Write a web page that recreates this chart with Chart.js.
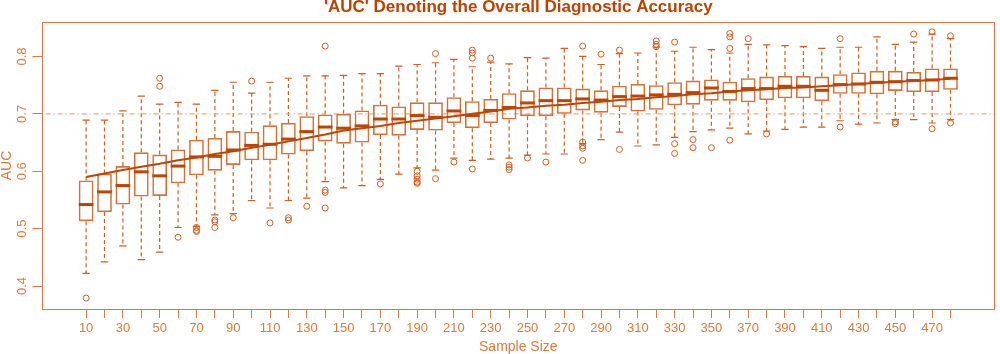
<!DOCTYPE html>
<html lang="en">
<head>
    <meta charset="UTF-8">
    <title>AUC boxplot</title>
    <script src="https://cdn.jsdelivr.net/npm/chart.js"></script>
    <style>
        body { margin: 0; background: #fff; }
        .chart-box { width: 1000px; height: 354px; position: relative; }
    </style>
</head>
<body>
    <div class="chart-box">
        <canvas id="aucChart"></canvas>
    </div>

    <script>
        // sample sizes (one box per size)
        const sizes = [10, 20, 30, 40, 50, 60, 70, 80, 90, 100, 110, 120, 130, 140, 150, 160,
            170, 180, 190, 200, 210, 220, 230, 240, 250, 260, 270, 280, 290, 300, 310, 320,
            330, 340, 350, 360, 370, 380, 390, 400, 410, 420, 430, 440, 450, 460, 470, 480];

        const whiskerLow = [0.422, 0.442, 0.470, 0.446, 0.459, 0.502, 0.504, 0.524, 0.526, 0.549, 0.536, 0.549,
            0.553, 0.582, 0.571, 0.575, 0.586, 0.595, 0.606, 0.602, 0.623, 0.619, 0.621, 0.623,
            0.628, 0.630, 0.630, 0.648, 0.655, 0.668, 0.644, 0.646, 0.659, 0.669, 0.672, 0.675,
            0.665, 0.670, 0.673, 0.677, 0.677, 0.688, 0.682, 0.684, 0.690, 0.690, 0.684, 0.690];
        const q1 = [0.513, 0.529, 0.542, 0.556, 0.557, 0.579, 0.593, 0.601, 0.611, 0.619, 0.619, 0.629,
            0.635, 0.652, 0.648, 0.650, 0.663, 0.662, 0.672, 0.671, 0.684, 0.675, 0.684, 0.690,
            0.696, 0.696, 0.700, 0.706, 0.702, 0.712, 0.704, 0.707, 0.715, 0.716, 0.723, 0.723,
            0.720, 0.724, 0.727, 0.727, 0.722, 0.735, 0.735, 0.734, 0.740, 0.738, 0.738, 0.742];
        const medians = [0.542, 0.564, 0.575, 0.599, 0.592, 0.609, 0.625, 0.626, 0.637, 0.645, 0.647, 0.656,
            0.669, 0.677, 0.675, 0.679, 0.691, 0.691, 0.697, 0.694, 0.705, 0.697, 0.706, 0.711,
            0.719, 0.723, 0.723, 0.726, 0.724, 0.730, 0.731, 0.733, 0.734, 0.737, 0.745, 0.739,
            0.744, 0.744, 0.748, 0.748, 0.741, 0.751, 0.752, 0.755, 0.756, 0.758, 0.759, 0.762];
        const q3 = [0.584, 0.596, 0.609, 0.633, 0.629, 0.638, 0.655, 0.658, 0.670, 0.669, 0.680, 0.684,
            0.696, 0.699, 0.700, 0.706, 0.716, 0.713, 0.720, 0.720, 0.729, 0.722, 0.726, 0.736,
            0.741, 0.746, 0.746, 0.744, 0.741, 0.749, 0.752, 0.750, 0.755, 0.758, 0.760, 0.756,
            0.762, 0.765, 0.766, 0.766, 0.765, 0.769, 0.772, 0.775, 0.775, 0.773, 0.779, 0.779];
        const whiskerHigh = [0.689, 0.689, 0.705, 0.731, 0.717, 0.720, 0.717, 0.741, 0.755, 0.736, 0.755, 0.762,
            0.766, 0.766, 0.767, 0.770, 0.770, 0.783, 0.786, 0.789, 0.795, 0.782, 0.790, 0.787,
            0.798, 0.797, 0.814, 0.800, 0.786, 0.805, 0.806, 0.816, 0.809, 0.816, 0.812, 0.806,
            0.821, 0.820, 0.819, 0.817, 0.814, 0.816, 0.816, 0.834, 0.821, 0.825, 0.839, 0.831];
        const outliers = [
            [0.379], [], [], [], [0.762, 0.748], [0.485], [0.502, 0.497, 0.495], [0.515, 0.512, 0.502],
            [0.519], [0.757], [0.510], [0.519, 0.515], [0.539], [0.818, 0.567, 0.563, 0.536], [], [],
            [0.578], [], [0.600, 0.592, 0.586, 0.581, 0.579], [0.805, 0.587], [0.616], [0.811, 0.806, 0.797, 0.604], [0.797], [0.611, 0.607, 0.603],
            [0.623], [0.616], [], [0.818, 0.651, 0.644, 0.640, 0.619], [0.804], [0.811, 0.638], [], [0.827, 0.821, 0.817],
            [0.825, 0.648, 0.631], [0.655, 0.641], [0.641], [0.840, 0.834, 0.814, 0.654], [0.831], [0.665], [], [],
            [], [0.831, 0.677], [], [], [0.686, 0.683], [0.839], [0.843, 0.674], [0.836, 0.684]
        ];
        // fitted trend through the boxes
        const trend = [0.590, 0.596, 0.602, 0.608, 0.613, 0.619, 0.624, 0.630, 0.635, 0.641, 0.646, 0.652,
            0.658, 0.664, 0.671, 0.675, 0.679, 0.684, 0.688, 0.692, 0.696, 0.700, 0.704, 0.709,
            0.711, 0.714, 0.716, 0.719, 0.721, 0.724, 0.726, 0.729, 0.731, 0.734, 0.736, 0.739,
            0.741, 0.743, 0.745, 0.746, 0.748, 0.750, 0.752, 0.754, 0.756, 0.757, 0.759, 0.761];
        const refLevel = 0.7;
        const yTicks = [0.4, 0.5, 0.6, 0.7, 0.8];

        const positions = sizes.map((s, i) => i + 1);
        const xMin = 0.5 - 0.04 * sizes.length;
        const xMax = sizes.length + 0.5 + 0.04 * sizes.length;

        const colBox = 'rgb(210, 114, 56)';
        const colWhisker = 'rgb(204, 94, 32)';
        const colMedian = 'rgb(190, 68, 0)';
        const colAxis = 'rgb(212, 122, 66)';
        const colText = 'rgb(216, 122, 62)';
        const colTitle = 'rgb(186, 66, 0)';
        const fontFamily = '"Liberation Sans", Arial, sans-serif';

        // whiskers, medians, frame, title and y labels
        const boxParts = {
            id: 'boxParts',
            beforeDatasetsDraw(chart) {
                const { ctx, scales: { x, y } } = chart;
                const half = (x.getPixelForValue(1) - x.getPixelForValue(0)) * 0.2;
                ctx.save();
                ctx.strokeStyle = colWhisker;
                ctx.lineWidth = 1.2;
                positions.forEach((p, i) => {
                    const px = x.getPixelForValue(p);
                    ctx.setLineDash([4, 3]);
                    ctx.beginPath();
                    ctx.moveTo(px, y.getPixelForValue(q3[i]));
                    ctx.lineTo(px, y.getPixelForValue(whiskerHigh[i]));
                    ctx.moveTo(px, y.getPixelForValue(q1[i]));
                    ctx.lineTo(px, y.getPixelForValue(whiskerLow[i]));
                    ctx.stroke();
                    ctx.setLineDash([]);
                    ctx.beginPath();
                    const yh = y.getPixelForValue(whiskerHigh[i]);
                    const yl = y.getPixelForValue(whiskerLow[i]);
                    ctx.moveTo(px - half, yh);
                    ctx.lineTo(px + half, yh);
                    ctx.moveTo(px - half, yl);
                    ctx.lineTo(px + half, yl);
                    ctx.stroke();
                });
                ctx.restore();
            },
            afterDatasetsDraw(chart) {
                const { ctx, scales: { x, y } } = chart;
                const half = (x.getPixelForValue(1) - x.getPixelForValue(0)) * 0.4;
                ctx.save();
                ctx.strokeStyle = colMedian;
                ctx.lineWidth = 3;
                positions.forEach((p, i) => {
                    const px = x.getPixelForValue(p);
                    const py = y.getPixelForValue(medians[i]);
                    ctx.beginPath();
                    ctx.moveTo(px - half, py);
                    ctx.lineTo(px + half, py);
                    ctx.stroke();
                });
                ctx.restore();
            },
            afterDraw(chart) {
                const { ctx, chartArea: a, scales: { y } } = chart;
                ctx.save();
                ctx.strokeStyle = colAxis;
                ctx.lineWidth = 1;
                ctx.strokeRect(Math.round(a.left) + 0.5, Math.round(a.top) + 0.5,
                    Math.round(a.right - a.left) - 1, Math.round(a.bottom - a.top));

                ctx.fillStyle = colTitle;
                ctx.font = 'bold 17px ' + fontFamily;
                ctx.textAlign = 'center';
                ctx.textBaseline = 'middle';
                ctx.fillText("'AUC' Denoting the Overall Diagnostic Accuracy", (a.left + a.right) / 2, 7);

                ctx.fillStyle = colText;
                ctx.font = '13px ' + fontFamily;
                yTicks.forEach(v => {
                    ctx.save();
                    ctx.translate(22.5, y.getPixelForValue(v));
                    ctx.rotate(-Math.PI / 2);
                    ctx.fillText(String(v), 0, 0);
                    ctx.restore();
                });
                ctx.restore();
            }
        };

        new Chart(document.getElementById('aucChart'), {
            type: 'bar',
            data: {
                datasets: [
                    {
                        type: 'line',
                        data: positions.map((p, i) => ({ x: p, y: trend[i] })),
                        borderColor: colMedian,
                        borderWidth: 2,
                        pointRadius: 0,
                        tension: 0,
                        order: 1
                    },
                    {
                        type: 'scatter',
                        data: outliers.flatMap((list, i) => list.map(v => ({ x: positions[i], y: v }))),
                        pointStyle: 'circle',
                        pointRadius: 3,
                        borderColor: colWhisker,
                        backgroundColor: 'rgba(0,0,0,0)',
                        borderWidth: 1,
                        order: 2
                    },
                    {
                        data: positions.map((p, i) => ({ x: p, y: [q1[i], q3[i]] })),
                        backgroundColor: 'rgba(0,0,0,0)',
                        borderColor: colBox,
                        borderWidth: 1.6,
                        borderSkipped: false,
                        categoryPercentage: 1,
                        barPercentage: 0.8,
                        order: 3
                    },
                    {
                        type: 'line',
                        data: [{ x: xMin, y: refLevel }, { x: xMax, y: refLevel }],
                        borderColor: 'rgb(234, 170, 128)',
                        borderWidth: 1.2,
                        borderDash: [1, 3, 5, 3],
                        pointRadius: 0,
                        order: 4
                    }
                ]
            },
            options: {
                responsive: true,
                maintainAspectRatio: false,
                animation: false,
                layout: { padding: { top: 22, right: 2, left: 0, bottom: 0 } },
                plugins: {
                    legend: { display: false },
                    tooltip: { enabled: false },
                    title: { display: false }
                },
                scales: {
                    x: {
                        type: 'linear',
                        min: xMin,
                        max: xMax,
                        offset: false,
                        afterBuildTicks: scale => {
                            scale.ticks = positions.map(p => ({ value: p }));
                        },
                        afterFit: scale => { scale.height = 45; },
                        grid: {
                            offset: false,
                            drawOnChartArea: false,
                            drawTicks: true,
                            tickLength: 9,
                            color: colAxis
                        },
                        border: { display: false },
                        ticks: {
                            autoSkip: false,
                            maxRotation: 0,
                            padding: 3,
                            color: colText,
                            font: { family: fontFamily, size: 13 },
                            callback: (v, i) => (i % 2 === 0 ? String(sizes[i]) : '')
                        },
                        title: {
                            display: true,
                            text: 'Sample Size',
                            color: colText,
                            padding: 0,
                            font: { family: fontFamily, size: 14, lineHeight: 1 }
                        }
                    },
                    y: {
                        min: 0.36,
                        max: 0.86,
                        afterBuildTicks: scale => {
                            scale.ticks = yTicks.map(v => ({ value: v }));
                        },
                        afterFit: scale => { scale.width = 41.6; },
                        grid: {
                            drawOnChartArea: false,
                            drawTicks: true,
                            tickLength: 9,
                            color: colAxis
                        },
                        border: { display: false },
                        ticks: { display: false },
                        title: {
                            display: true,
                            text: 'AUC',
                            color: colText,
                            padding: 0,
                            font: { family: fontFamily, size: 14, lineHeight: 1 }
                        }
                    }
                }
            },
            plugins: [boxParts]
        });
    </script>
</body>
</html>
